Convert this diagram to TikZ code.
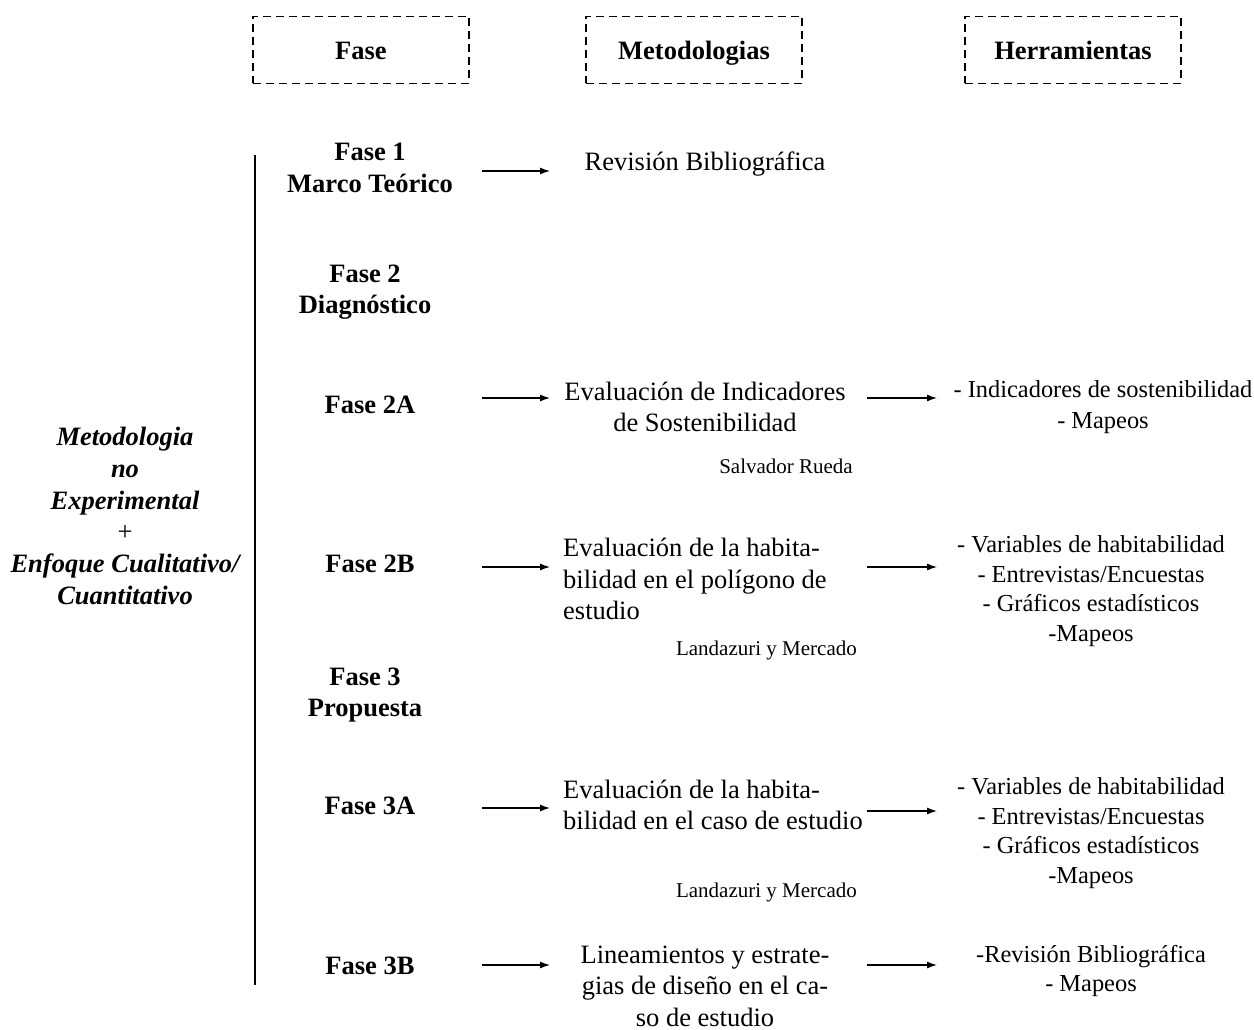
\documentclass[tikz,border=0pt]{standalone}
\usepackage{fontspec}
\setmainfont{Liberation Serif}
\usetikzlibrary{arrows.meta}
\begin{document}
\begin{tikzpicture}[x=1pt,y=-1pt,
    every node/.style={inner sep=0pt,font=\fontsize{26.5}{31.5}\selectfont},
    cabeza/.style={draw,dash pattern=on 8pt off 5pt,line width=1.8pt,minimum width=216pt,minimum height=67pt,text height=22pt,text depth=2pt,font=\fontsize{26.5}{31.5}\selectfont\bfseries},
    fase/.style={align=center,font=\fontsize{26.5}{31.5}\selectfont\bfseries},
    autor/.style={anchor=east,font=\fontsize{21}{25}\selectfont},
    herr/.style={align=center,font=\fontsize{24.4}{29.5}\selectfont},
    flecha/.style={-{Latex[length=10pt,width=7pt]},line width=1.2pt}]
        \useasboundingbox (0,0) rectangle (1254,1030);
        %% Headers
        \node[cabeza] (hfase) at (361,50) {Fase};
        \node[cabeza] (hmet) at (694,50) {Metodologias};
        \node[cabeza] (hher) at (1073,50) {Herramientas};
        %% Left side
        \draw[line width=1.8pt] (255,155) -- (255,985);
        \node[align=center,font=\fontsize{26.5}{31.8}\selectfont\bfseries\itshape] (enfoque) at (125,516) {Metodologia\\no\\Experimental\\{\normalfont +}\\Enfoque Cualitativo/\\Cuantitativo};
        %% Phases
        \node[fase] (f1) at (370,168) {Fase 1\\Marco Teórico};
        \node[fase] (f2) at (365,292) {Fase 2\\Diagnóstico};
        \node[fase] (f2a) at (370,405) {Fase 2A};
        \node[fase] (f2b) at (370,564) {Fase 2B};
        \node[fase] (f3) at (365,695) {Fase 3\\Propuesta};
        \node[fase] (f3a) at (370,806) {Fase 3A};
        \node[fase] (f3b) at (370,966) {Fase 3B};
        %% Methodologies
        \node (m1) at (705,164) {Revisión Bibliográfica};
        \node[align=center] (m2a) at (705,407) {Evaluación de Indicadores\\de Sostenibilidad};
        \node[autor] (r2a) at (853,466) {Salvador Rueda};
        \node[align=left,anchor=west] (m2b) at (563,579) {Evaluación de la habita-\\bilidad en el polígono de\\estudio};
        \node[autor] (r2b) at (857,650) {Landazuri y Mercado};
        \node[align=left,anchor=west] (m3a) at (563,805) {Evaluación de la habita-\\bilidad en el caso de estudio};
        \node[autor] (r3a) at (857,892) {Landazuri y Mercado};
        \node[align=center] (m3b) at (705,986) {Lineamientos y estrate-\\gias de diseño en el ca-\\so de estudio};
        %% Tools
        \node[herr,font=\fontsize{24.4}{31}\selectfont] (h2a) at (1103,407) {- Indicadores de sostenibilidad\\- Mapeos};
        \node[herr] (h2b) at (1091,591) {- Variables de habitabilidad\\- Entrevistas/Encuestas\\- Gráficos estadísticos\\-Mapeos};
        \node[herr] (h3a) at (1091,833) {- Variables de habitabilidad\\- Entrevistas/Encuestas\\- Gráficos estadísticos\\-Mapeos};
        \node[herr] (h3b) at (1091,971) {-Revisión Bibliográfica\\- Mapeos};
        %% Arrows
        \foreach \n/\y in {1/171,2a/398,2b/567,3a/808,3b/965}
            {\coordinate (a\n) at (482,\y); \coordinate (b\n) at (550,\y);
             \draw[flecha] (a\n) -- (b\n);}
        \foreach \n/\y in {2a/398,2b/567,3a/811,3b/965}
            {\coordinate (c\n) at (867,\y); \coordinate (d\n) at (937,\y);
             \draw[flecha] (c\n) -- (d\n);}
    \end{tikzpicture}
\end{document}
